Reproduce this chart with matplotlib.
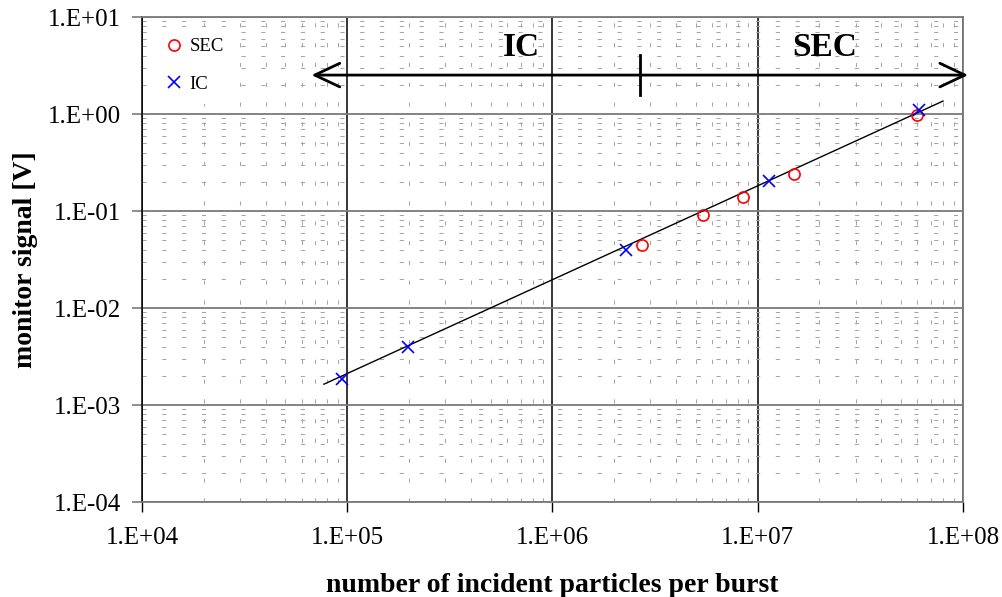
import numpy as np
import matplotlib.pyplot as plt
from matplotlib.ticker import LogLocator, FuncFormatter

plt.rcParams['font.family'] = ['Liberation Serif', 'DejaVu Serif']

# data
sec_x = [2.73e6, 5.42e6, 8.49e6, 1.50e7, 5.98e7]
sec_y = [0.0446, 0.091, 0.139, 0.24, 0.977]
ic_x = [9.4e4, 1.98e5, 2.29e6, 1.14e7, 6.12e7]
ic_y = [1.85e-3, 3.96e-3, 0.0396, 0.204, 1.10]
fit_x = [7.7e4, 8.0e7]
fit_y = [1.64e-3, 1.36]

arrow_left = 6.7e4
arrow_right = 1.06e8
arrow_y = 2.52
split_x = 2.67e6   # IC / SEC boundary

fig = plt.figure(figsize=(10.02, 5.97), dpi=100)
ax = fig.add_axes([0.1417, 0.1591, 0.8193, 0.8124])

ax.set_xscale('log')
ax.set_yscale('log')
ax.set_xlim(1e4, 1e8)
ax.set_ylim(1e-4, 1e1)

#grids: dashed minor first, solid major over it
ax.xaxis.set_minor_locator(LogLocator(base=10, subs=np.arange(2, 10), numticks=20))
ax.yaxis.set_minor_locator(LogLocator(base=10, subs=np.arange(2, 10), numticks=20))
ax.grid(which='minor', axis='both', color='#a6a6a6', lw=0.75, ls=(0, (4, 15)))
ax.grid(which='major', axis='y', color='#7a7a7a', lw=1.3, ls='-')
ax.grid(which='major', axis='x', color='black', lw=1.1, ls='-')
ax.set_axisbelow(True)

fmt = FuncFormatter(lambda v, p: '1.E%+03d' % int(round(np.log10(v))))
ax.xaxis.set_major_formatter(fmt)
ax.yaxis.set_major_formatter(fmt)
ax.tick_params(which='minor', length=0)
ax.tick_params(axis='x', which='major', direction='out', length=7, width=1,
               color='black', labelsize=18, pad=11)
ax.tick_params(axis='y', which='major', direction='out', length=7, width=1.2,
               color='#7a7a7a', labelsize=18, pad=8)

for s in ['top', 'right', 'bottom']:
    ax.spines[s].set_color('#7a7a7a')
    ax.spines[s].set_linewidth(1.3)
ax.spines['left'].set_color('black')
ax.spines['left'].set_linewidth(1.1)

# fit line and the two series
ax.plot(fit_x, fit_y, color='black', lw=1)
ax.plot(sec_x, sec_y, ls='none', marker='o', mfc='none', mec='red',
        ms=8, mew=1.2, label='SEC')
ax.plot(ic_x, ic_y, ls='none', marker='x', color='blue',
        ms=9, mew=1.2, label='IC')

# IC <-> SEC arrow
ax.annotate('', xy=(arrow_right, arrow_y), xytext=(arrow_left, arrow_y),
            annotation_clip=False,
            arrowprops=dict(arrowstyle='<->,head_length=1.8,head_width=0.85',
                            lw=2, color='black', mutation_scale=10,
                            shrinkA=0, shrinkB=0, clip_on=False))
ax.plot([split_x, split_x], [1.57, 4.06], color='black', lw=2)
ax.text(7.1e5, 4.9, 'IC', fontsize=24, fontweight='bold', ha='center', va='center')
ax.text(2.13e7, 4.9, 'SEC', fontsize=24, fontweight='bold', ha='center', va='center')

leg = ax.legend(loc='upper left', bbox_to_anchor=(0.003, 0.999), fontsize=13.5,
                frameon=True, fancybox=False, framealpha=1, edgecolor='none',
                handlelength=1.0, handletextpad=0.3, labelspacing=1.1,
                borderpad=0.6)

ax.set_xlabel('number of incident particles per burst', fontsize=20,
              fontweight='bold', labelpad=17)
ax.set_ylabel('monitor signal [V]', fontsize=20, fontweight='bold', labelpad=7)

plt.savefig('out.png', dpi=100)
